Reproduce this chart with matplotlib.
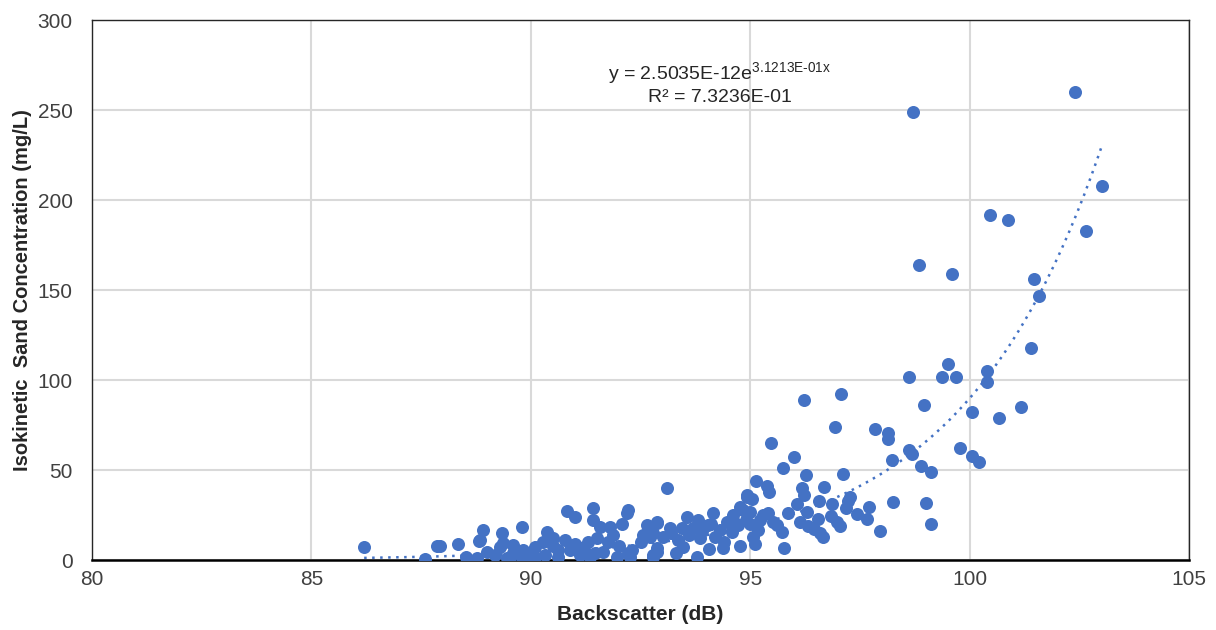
import numpy as np
import matplotlib
matplotlib.use('Agg')
from matplotlib import pyplot as plt

plt.rcParams['font.family'] = ['Liberation Sans', 'DejaVu Sans']
plt.rcParams['mathtext.fontset'] = 'custom'
plt.rcParams['mathtext.rm'] = 'Liberation Sans'

# backscatter (dB) and sand concentration (mg/L)
backscatter = [
    102.39, 98.70, 103.02, 100.46, 100.87, 102.64, 98.84, 99.59, 101.46, 101.57,
    101.39, 99.50, 98.61, 99.36, 99.68, 100.39, 100.39, 98.96, 101.16, 100.05,
    100.66, 99.77, 100.05, 100.21, 98.13, 98.13, 98.61, 98.68, 98.22, 98.88,
    99.11, 98.25, 99.00, 99.11, 97.95, 97.84, 96.22, 97.06, 96.93, 95.47,
    95.99, 95.74, 97.11, 96.26, 95.13, 95.38, 95.42, 96.67, 96.17, 96.22,
    97.27, 97.22, 96.56, 94.92, 95.03, 96.86, 96.06, 97.70, 97.18, 96.29,
    95.85, 97.43, 97.65, 96.83, 96.97, 97.04, 96.54, 96.13, 96.31, 94.83,
    95.28, 95.40, 95.51, 95.60, 95.72, 95.17, 95.06, 95.10, 96.45, 96.58,
    96.65, 95.76, 94.76, 93.10, 94.92, 94.76, 94.99, 94.15, 93.55, 93.80,
    94.46, 94.72, 92.87, 93.17, 93.44, 93.69, 94.03, 94.30, 94.58, 92.71,
    93.01, 93.35, 93.85, 94.19, 94.05, 94.37, 92.87, 93.78, 93.46, 95.22,
    90.82, 91.00, 91.41, 92.21, 92.19, 91.41, 91.57, 91.80, 92.07, 89.80,
    88.91, 89.34, 90.36, 90.77, 88.84, 92.64, 92.87, 92.55, 92.78, 91.87,
    91.75, 91.50, 91.07, 90.89, 90.62, 90.27, 90.02, 89.59, 89.59, 89.82,
    89.29, 89.18, 88.99, 89.45, 89.91, 90.09, 90.32, 90.62, 91.12, 91.34,
    91.46, 91.64, 91.96, 92.21, 92.30, 92.78, 92.87, 91.23, 86.20, 87.59,
    87.86, 87.93, 88.34, 88.52, 88.77, 88.82, 89.36, 89.52, 89.80, 92.26,
    92.78, 93.20, 93.90, 94.60, 94.40, 93.60, 94.90, 95.00, 92.50, 90.50,
    91.00, 90.10, 90.50, 91.30, 92.00, 93.30, 94.10, 94.60,
]
concentration = [
    260, 249, 208, 192, 189, 183, 164, 159, 156, 147,
    118, 109, 102, 102, 102, 105, 99, 86, 85, 82,
    79, 62, 58, 54.5, 70.5, 67, 61, 59, 55.5, 52,
    49, 32, 31.5, 20, 16, 73, 89, 92, 74, 65,
    57, 51, 48, 47, 44, 41, 38, 40.6, 40, 36,
    35, 33, 33, 36, 34, 31, 31, 29.5, 29, 26.5,
    26, 25.5, 23, 24.4, 21, 19, 23, 21, 19, 28,
    25, 26, 21, 19.4, 15.6, 16.7, 13, 9, 17, 15,
    13, 6.7, 8, 40, 35, 29.6, 26.7, 26, 24, 22,
    21, 19.4, 20.5, 18, 18, 17.8, 19.4, 16.7, 15.6, 13,
    12.8, 11, 12, 12.8, 6, 6.7, 4.4, 1.7, 7.2, 22,
    27, 24, 29, 28, 26, 22, 18.3, 18.3, 20, 18.3,
    16.7, 15, 15.6, 11, 11, 19.4, 21, 14, 15, 14,
    10, 12, 7.2, 5.6, 5.6, 10, 4.4, 8.3, 3.9, 5.6,
    7.2, 2.8, 4.4, 1, 1.7, 1.7, 2.8, 1.7, 2.8, 1.7,
    3.9, 4.4, 1.7, 3.9, 5.6, 1.7, 6.7, 4.4, 7.2, 0.5,
    7.8, 7.8, 8.9, 1.7, 1.1, 10.6, 9.4, 1.7, 1.1, 1.7,
    2.8, 15, 16, 22, 10, 14, 22, 20, 10, 8,
    9, 7, 12, 10, 8, 4, 20, 25,
]

# exponential trendline constants (from the chart label)
fit_a = 2.5035e-12
fit_b = 0.31213
r_squared = 0.73236

x_ticks = [80, 85, 90, 95, 100, 105]
y_ticks = [0, 50, 100, 150, 200, 250, 300]

fig = plt.figure(figsize=(12.16, 6.3), dpi=100)
ax = fig.add_axes([0.0757, 0.111, 0.9023, 0.857])

ax.scatter(backscatter, concentration, s=88, color='#4472C4', zorder=3, linewidths=0)

xf = np.linspace(min(backscatter), max(backscatter), 200)
ax.plot(xf, fit_a * np.exp(fit_b * xf), linestyle=(0, (1, 2.2)), color='#4472C4',
        linewidth=1.8, zorder=2)

ax.set_xlim(80, 105)
ax.set_ylim(0, 300)
ax.set_xticks(x_ticks)
ax.set_yticks(y_ticks)
ax.tick_params(length=0, labelsize=15, colors='#404040')
ax.tick_params(axis='y', pad=14)
ax.tick_params(axis='x', pad=7)
ax.grid(color='#D9D9D9', linewidth=1.5)
ax.set_axisbelow(True)
for side in ['top', 'left', 'right']:
    ax.spines[side].set_color('#262626')
    ax.spines[side].set_linewidth(1.0)
ax.spines['bottom'].set_color('black')
ax.spines['bottom'].set_linewidth(1.8)

ax.set_xlabel('Backscatter (dB)', fontsize=15, fontweight='bold', color='#262626', labelpad=12)
ax.set_ylabel('Isokinetic  Sand Concentration (mg/L)', fontsize=14.5, fontweight='bold',
              color='#262626', labelpad=4)

ax.text(94.3, 270, 'y = 2.5035E-12e$^{\\mathregular{3.1213E\u201001x}}$', ha='center', va='center',
        fontsize=14, color='#262626')
ax.text(94.3, 257, 'R² = %.4E' % r_squared, ha='center', va='center', fontsize=14, color='#262626')

fig.savefig('out.png', dpi=100)
